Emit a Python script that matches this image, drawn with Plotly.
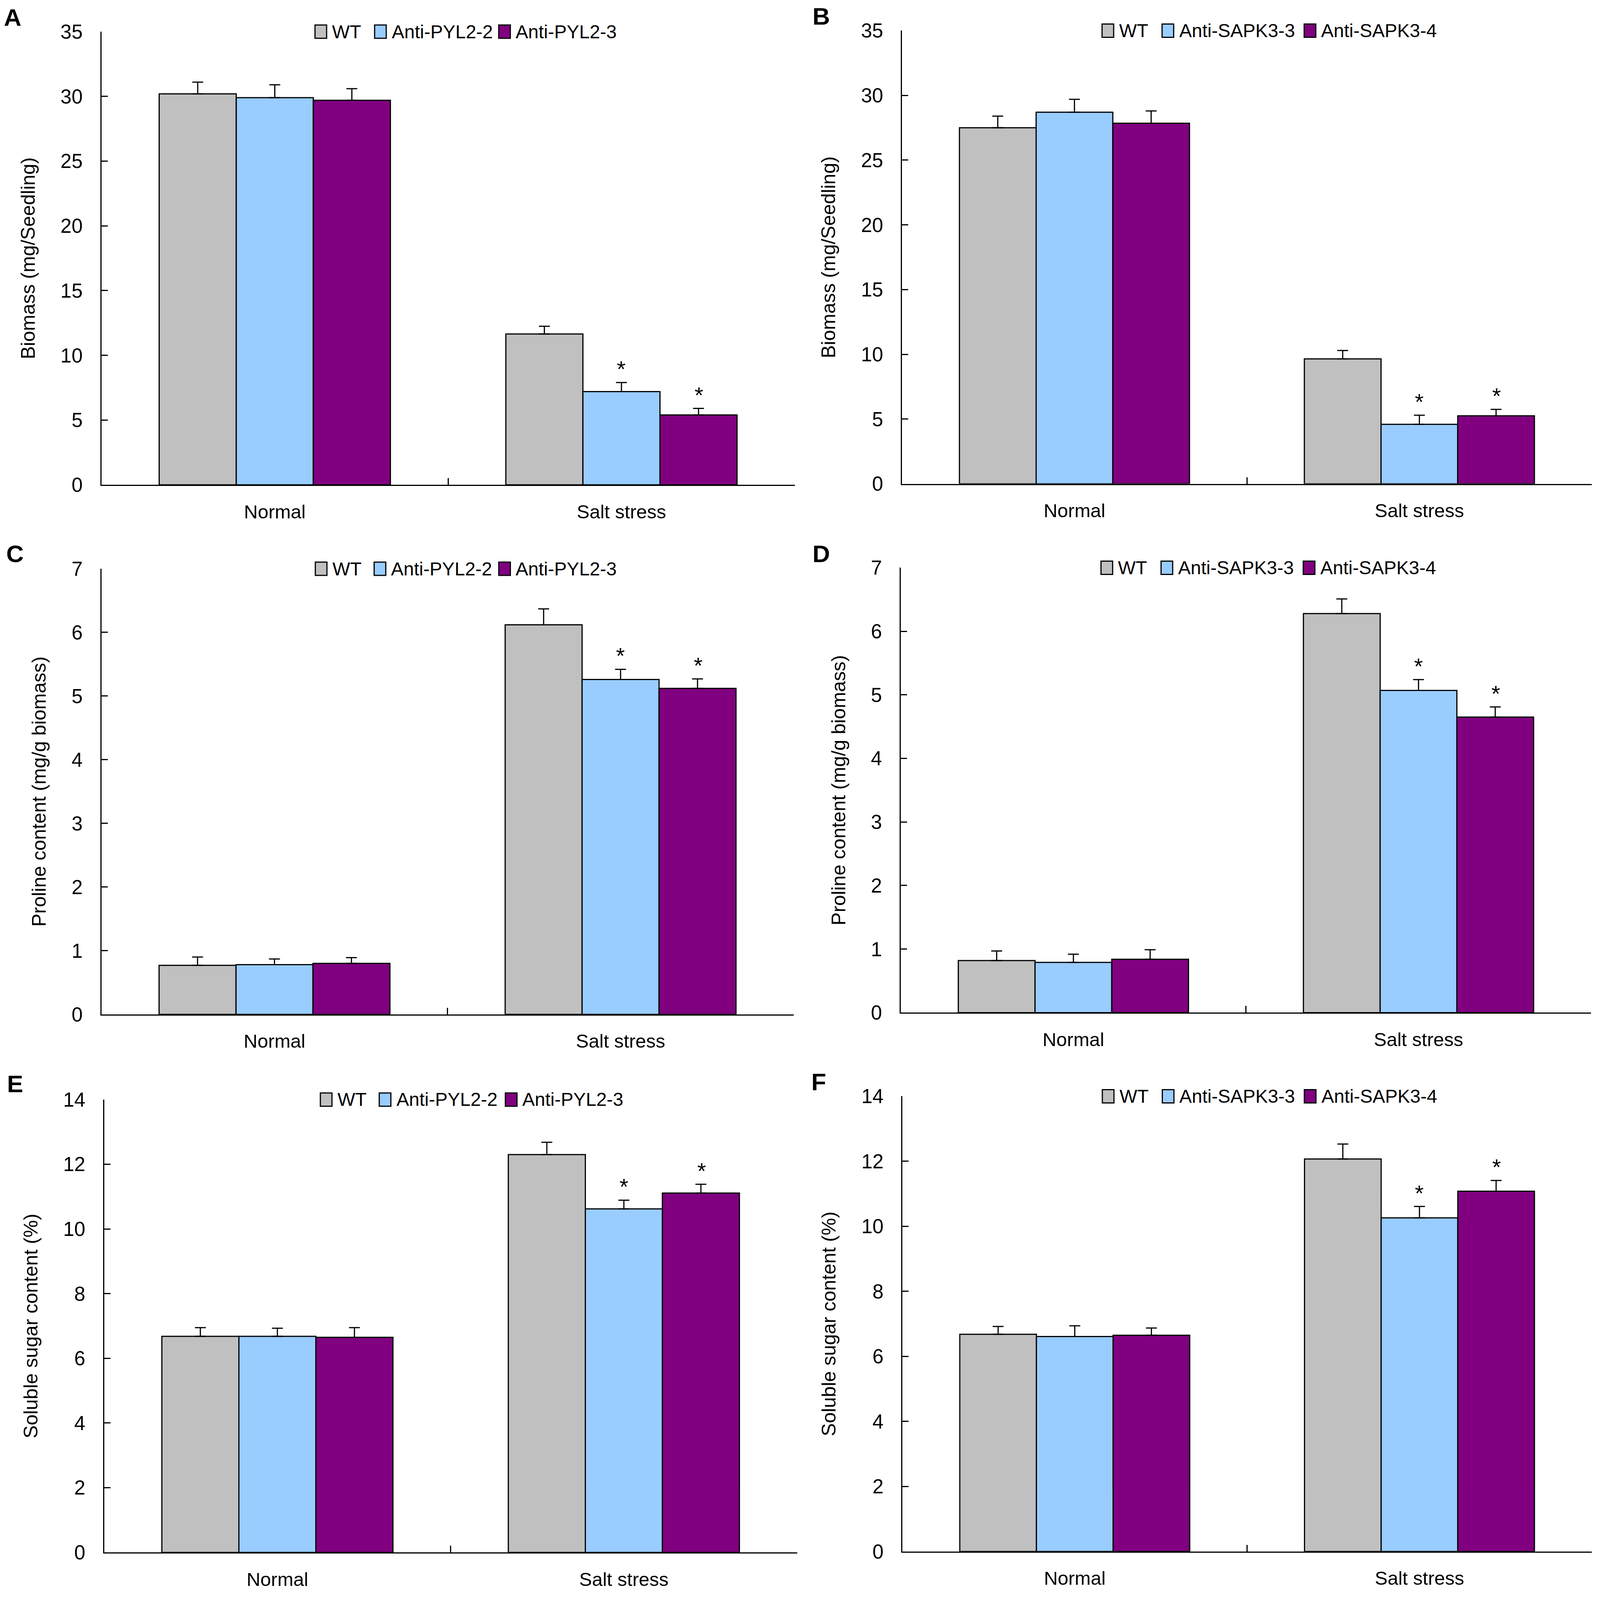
import plotly.graph_objects as go

W, H = 4117, 4804
FONT = "Liberation Sans, Arial, sans-serif"

groups = ["Normal", "Salt stress"]
lines_pyl = ["WT", "Anti-PYL2-2", "Anti-PYL2-3"]
lines_sapk = ["WT", "Anti-SAPK3-3", "Anti-SAPK3-4"]
colors = ["#C0C0C0", "#99CCFF", "#800080"]

# values per line: [Normal, Salt stress]
biomass_pyl = [[30.2, 11.65], [29.9, 7.2], [29.7, 5.4]]
biomass_pyl_err = [[0.9, 0.6], [1.0, 0.7], [0.9, 0.5]]
biomass_sapk = [[27.5, 9.65], [28.7, 4.6], [27.85, 5.25]]
biomass_sapk_err = [[0.9, 0.65], [1.0, 0.7], [0.95, 0.5]]

proline_pyl = [[0.77, 6.12], [0.78, 5.26], [0.80, 5.12]]
proline_pyl_err = [[0.13, 0.25], [0.09, 0.16], [0.09, 0.15]]
proline_sapk = [[0.82, 6.28], [0.79, 5.07], [0.84, 4.65]]
proline_sapk_err = [[0.15, 0.23], [0.13, 0.17], [0.15, 0.16]]

sugar_pyl = [[6.68, 12.3], [6.68, 10.62], [6.65, 11.11]]
sugar_pyl_err = [[0.27, 0.38], [0.25, 0.27], [0.3, 0.27]]
sugar_sapk = [[6.68, 12.07], [6.61, 10.26], [6.65, 11.08]]
sugar_sapk_err = [[0.24, 0.46], [0.33, 0.35], [0.22, 0.33]]

stars = [["", ""], ["", "*"], ["", "*"]]

# panel: letter, lines, values, errors, y title, y max, dtick, x px, y px, letter pos, legend key starts
panels = [
    ("A", lines_pyl, biomass_pyl, biomass_pyl_err, "Biomass (mg/Seedling)", 35, 5,
     (254, 2045), (86, 1452), (25, 43), [0.308, 0.394, 0.573]),
    ("B", lines_sapk, biomass_sapk, biomass_sapk_err, "Biomass (mg/Seedling)", 35, 5,
     (2322, 4104), (83, 1449), (2113, 40), [0.290, 0.377, 0.583]),
    ("C", lines_pyl, proline_pyl, proline_pyl_err, "Proline content (mg/g biomass)", 7, 1,
     (254, 2042), (1705, 3048), (31, 1660), [0.309, 0.394, 0.574]),
    ("D", lines_sapk, proline_sapk, proline_sapk_err, "Proline content (mg/g biomass)", 7, 1,
     (2319, 4102), (1702, 3043), (2113, 1660), [0.290, 0.377, 0.583]),
    ("E", lines_pyl, sugar_pyl, sugar_pyl_err, "Soluble sugar content (%)", 14, 2,
     (261, 2051), (3305, 4670), (31, 3258), [0.312, 0.397, 0.579]),
    ("F", lines_sapk, sugar_sapk, sugar_sapk_err, "Soluble sugar content (%)", 14, 2,
     (2323, 4104), (3295, 4667), (2107, 3252), [0.290, 0.377, 0.583]),
]

BARGAP = 0.333

fig = go.Figure()
layout = {}
shapes = []
annotations = []

for n, (letter, names, vals, errs, ytitle, ymax, dtick, xpx, ypx, lpos, keys) in enumerate(panels, start=1):
    xa = "x" if n == 1 else f"x{n}"
    ya = "y" if n == 1 else f"y{n}"
    dw = xpx[1] - xpx[0]
    dh = ypx[1] - ypx[0]
    bar_px = dw * 0.5 * (1 - BARGAP) / 3
    for i, name in enumerate(names):
        fig.add_trace(go.Bar(
            x=groups, y=vals[i], name=name, xaxis=xa, yaxis=ya,
            marker=dict(color=colors[i], line=dict(color="black", width=3)),
            error_y=dict(type="data", symmetric=False, array=errs[i],
                         arrayminus=[0] * len(groups), color="black",
                         thickness=3, width=14),
            showlegend=False,
        ))
        for g, grp in enumerate(groups):
            if stars[i][g]:
                annotations.append(dict(
                    x=grp, y=vals[i][g] + errs[i][g], xref=xa, yref=ya,
                    text=stars[i][g], showarrow=False, xanchor="center",
                    yanchor="bottom", xshift=(i - 1) * bar_px, yshift=0,
                    font=dict(size=58, color="black", family=FONT)))
        # legend key and label
        kx = keys[i]
        shapes.append(dict(
            type="rect", xref=f"{xa} domain", yref=f"{ya} domain",
            x0=kx, x1=kx + 30 / dw, y0=1 - 20 / dh, y1=1 + 20 / dh,
            fillcolor=colors[i], line=dict(color="black", width=3)))
        annotations.append(dict(
            x=kx + 42 / dw, y=1.0, xref=f"{xa} domain", yref=f"{ya} domain",
            text=name, showarrow=False, xanchor="left", yanchor="middle",
            font=dict(size=48, color="black", family=FONT)))

    annotations.append(dict(
        x=lpos[0] / W, y=1 - lpos[1] / H, xref="paper", yref="paper",
        text=f"<b>{letter}</b>", showarrow=False, xanchor="center", yanchor="middle",
        font=dict(size=62, color="black", family=FONT)))

    key_x = "xaxis" if n == 1 else f"xaxis{n}"
    key_y = "yaxis" if n == 1 else f"yaxis{n}"
    layout[key_x] = dict(
        domain=[xpx[0] / W, xpx[1] / W], anchor=ya, type="category",
        categoryorder="array", categoryarray=groups, automargin=False,
        showline=True, linecolor="black", linewidth=3,
        ticks="inside", tickson="boundaries", ticklen=17, tickwidth=3, tickcolor="black",
        ticklabelstandoff=24, showgrid=False, zeroline=False,
        tickfont=dict(size=49, color="black", family=FONT))
    layout[key_y] = dict(
        domain=[1 - ypx[1] / H, 1 - ypx[0] / H], anchor=xa, automargin=False,
        range=[0, ymax], dtick=dtick, tick0=0,
        showline=True, linecolor="black", linewidth=3,
        ticks="inside", ticklen=16, tickwidth=3, tickcolor="black",
        ticklabelstandoff=35, showgrid=False, zeroline=False,
        tickfont=dict(size=51, color="black", family=FONT),
        title=dict(text=ytitle, standoff=50,
                   font=dict(size=50, color="black", family=FONT)))

# size follows the browser window
fig.update_layout(
    autosize=True,
    margin=dict(l=0, r=0, t=0, b=0),
    paper_bgcolor="white", plot_bgcolor="white",
    barmode="group", bargap=BARGAP, bargroupgap=0,
    shapes=shapes, annotations=annotations,
    font=dict(family=FONT, color="black"),
    **layout)

fig.write_html("out.html")
